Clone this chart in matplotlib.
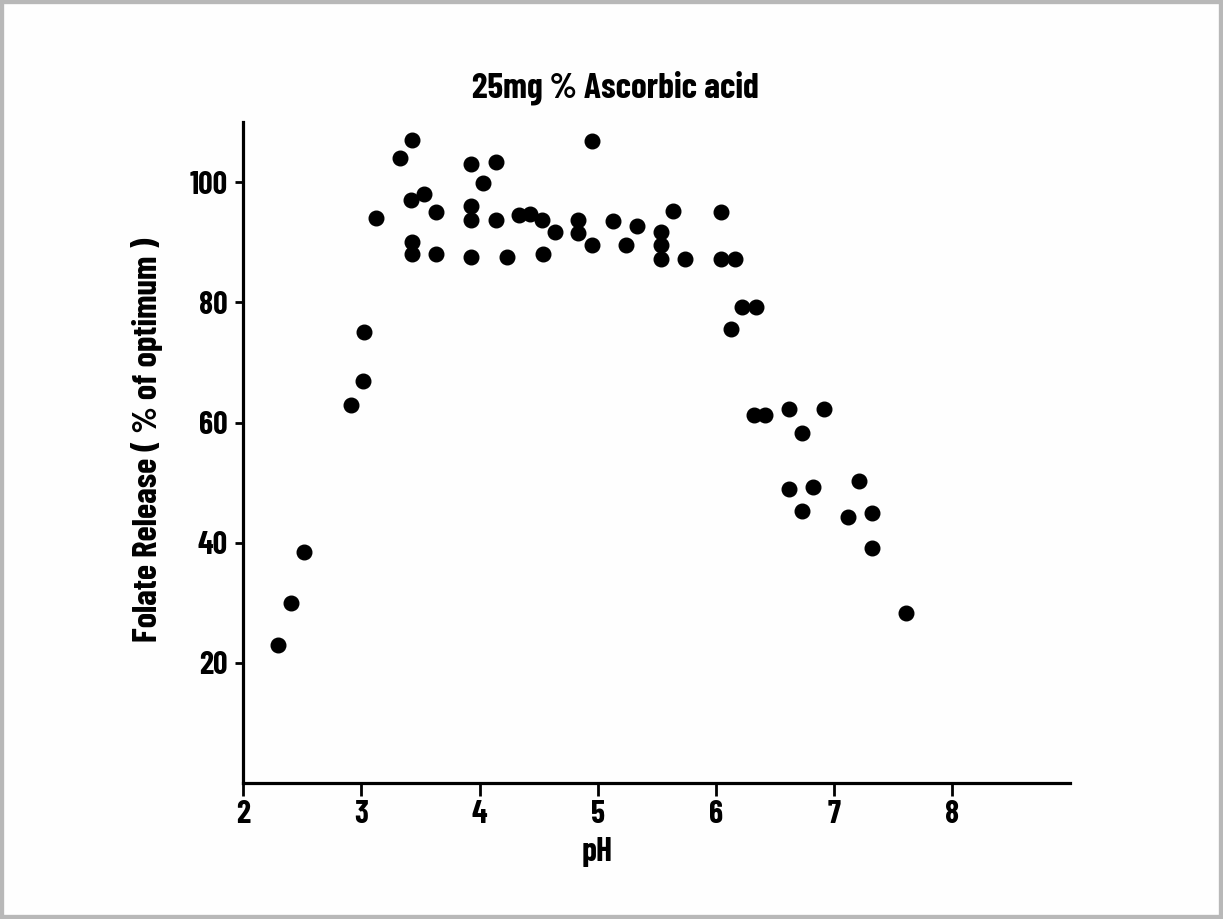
import matplotlib.pyplot as plt
from matplotlib.patches import Rectangle

# pH e libertação de folato (% do óptimo)
PH = [2.29, 2.40, 2.51, 2.91, 3.01, 3.02, 3.12, 3.33, 3.43, 3.42, 3.53, 3.43, 3.43, 3.63, 3.63,
      3.93, 3.93, 3.93, 3.93, 4.03, 4.14, 4.14, 4.23, 4.33, 4.43, 4.53, 4.54, 4.64,
      4.83, 4.83, 4.95, 4.95, 5.13, 5.24, 5.33, 5.54, 5.54, 5.54, 5.64, 5.74,
      6.04, 6.04, 6.16, 6.13, 6.22, 6.34, 6.32, 6.42, 6.62, 6.62, 6.73, 6.73, 6.82,
      6.92, 7.12, 7.21, 7.32, 7.32, 7.61]
FOLATE = [23, 30, 38.5, 63, 67, 75, 94, 104, 107, 97, 98, 90, 88, 95, 88,
          103, 96, 93.7, 87.6, 99.8, 103.3, 93.7, 87.5, 94.5, 94.8, 93.8, 88, 91.7,
          93.7, 91.5, 106.8, 89.6, 93.5, 89.5, 92.7, 91.7, 89.5, 87.3, 95.3, 87.3,
          95, 87.3, 87.3, 75.5, 79.2, 79.2, 61.3, 61.2, 62.2, 49, 58.2, 45.3, 49.2,
          62.2, 44.2, 50.2, 45, 39.2, 28.3]

X_TICKS = [2, 3, 4, 5, 6, 7, 8]
Y_TICKS = [20, 40, 60, 80, 100]

TITLE = "25mg % Ascorbic acid"
XLABEL = "pH"
YLABEL = "Folate Release ( % of optimum )"

plt.rcParams["font.family"] = ["Barlow Condensed", "DejaVu Sans"]
plt.rcParams["font.weight"] = "bold"

fig = plt.figure(figsize=(12.23, 9.19), dpi=100, facecolor="#fefefe")
fig.patches.append(Rectangle((0, 0), 1, 1, transform=fig.transFigure, fill=False,
                             edgecolor="#b8b8b8", linewidth=6))
ax = fig.add_axes([0.199, 0.148, 0.676, 0.719])
ax.set_facecolor("#fefefe")

ax.plot(PH, FOLATE, "o", color="black", markersize=10.5, linestyle="none", clip_on=False)

ax.set_xlim(2, 9)
ax.set_ylim(0, 110)
ax.set_xticks(X_TICKS)
ax.set_yticks(Y_TICKS)
ax.tick_params(axis="both", direction="out", width=2, labelsize=23, colors="black")
ax.tick_params(axis="x", length=9, pad=3)
ax.tick_params(axis="y", length=6, pad=5)

for side in ("top", "right"):
    ax.spines[side].set_visible(False)
for side in ("left", "bottom"):
    ax.spines[side].set_linewidth(2.3)

ax.set_title(TITLE, fontsize=25.5, fontweight="bold", x=0.45, pad=18)
ax.set_xlabel(XLABEL, fontsize=24, fontweight="bold")
ax.xaxis.set_label_coords(0.428, -0.082)
ax.set_ylabel(YLABEL, fontsize=25, fontweight="bold")
ax.yaxis.set_label_coords(-0.097, 0.519)

fig.savefig("out.png", dpi=100, facecolor=fig.get_facecolor())
plt.close(fig)
